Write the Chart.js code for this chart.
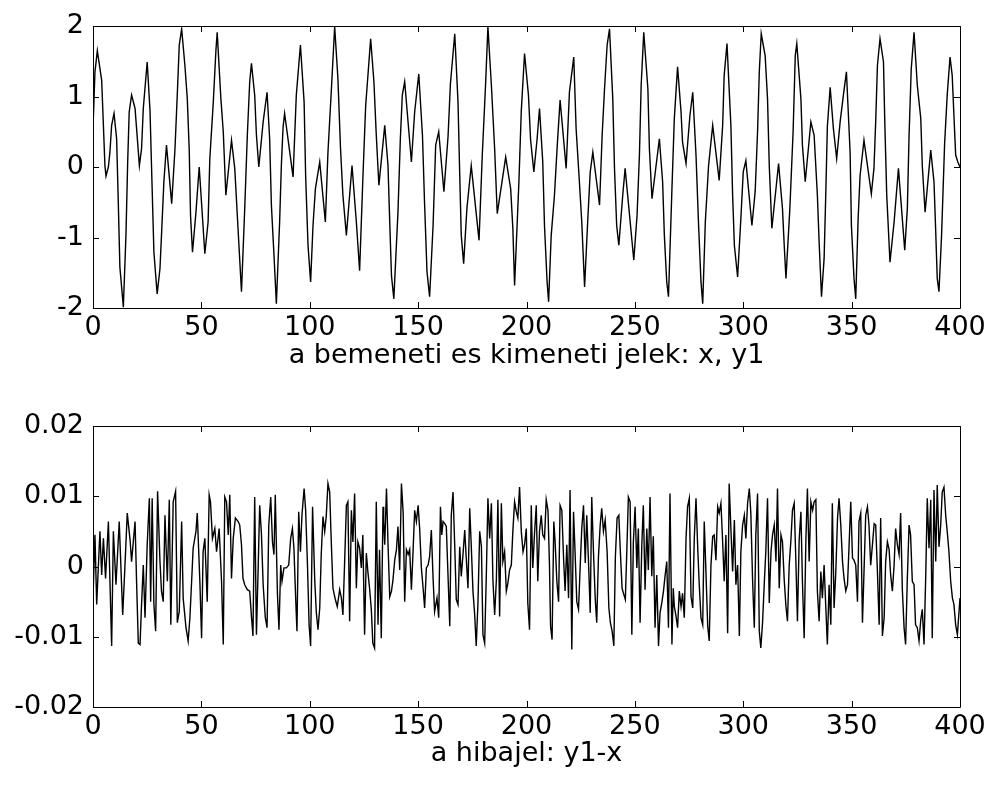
<!DOCTYPE html>
<html>
<head>
<meta charset="utf-8">
<script src="https://cdn.jsdelivr.net/npm/chart.js@4"></script>
<style>
  html, body { margin: 0; padding: 0; background: #ffffff; }
  #lap { position: relative; width: 991px; height: 787px; background: #ffffff; }
  .tabla { position: absolute; left: 0; }
  #felso { top: 0; }
  #also { top: 400px; }
</style>
</head>
<body>
<div id="lap">
  <canvas id="felso" class="tabla" width="991" height="393"></canvas>
  <canvas id="also" class="tabla" width="991" height="387"></canvas>
</div>
<script>
/* x tengely osztasai */
const xTicks = [0, 50, 100, 150, 200, 250, 300, 350, 400];
const yTicksJel = [-2, -1, 0, 1, 2];
const yTicksHiba = [-0.02, -0.01, 0, 0.01, 0.02];

/* BEMENETI / KIMENETI JEL (x, y1) - mintaszam es ertek */
const jelMinta = [0,0.9,2,4,4.8,5.5,6,7.1,7.8,8.6,9.7,10.9,11.7,12.4,13.2,14,15.2,16,16.7,17.8,19.4,21.4,22.4,23.2,25,26.3,27.2,28.1,29.6,30.9,31.6,32.7,33.9,36.3,37.8,38.9,39.8,40.9,42.4,43.5,44.4,45,45.9,47.5,49,51.6,53.1,53.9,55.5,56.7,57.3,59,60.1,61.3,63.9,65.4,66.9,68.5,70,71.2,72.3,73.1,74.6,75.4,76.5,78.5,80.3,81.5,82.3,83.5,84.6,86.1,86.9,87.7,88.4,92.3,93.8,95.7,97.4,98.1,99.2,100.4,101.5,102.6,104.6,107.2,108.4,110,111.5,113,114.2,115.3,116.9,119.5,121.5,123,124.5,125.8,128.1,129.6,130.7,131.9,134.6,136.1,136.9,137.7,138.8,140.7,141.8,142.7,143.8,146.9,148.4,150.3,152,153,154.1,155.3,156.9,158.1,159.5,161.9,163.8,164.9,166.9,168.4,169.2,169.9,171,172.5,174.5,178.1,179.6,181.1,182.2,183.8,185.3,186.5,190.4,192.7,193.7,194.5,196.5,197.6,199.1,200.9,201.9,203.4,204.9,206,207.5,208.3,209.5,210.2,211.4,212.9,214.2,215.5,218.3,219.8,221.8,222.9,224.4,225.5,226.8,228.3,229.4,230.6,233.7,234.9,236,237.2,238.3,239.8,240.6,241.6,242.6,244.4,245.5,249.5,251,252.1,252.9,254.1,256,256.7,257.9,261.3,262.8,263.6,264.7,265.5,267.1,268.2,269.7,271.3,272,273.6,275.4,276.7,278.2,279.4,280.5,281.3,282.5,284,285.9,288.9,290.5,291.2,292.5,294.3,295.1,295.9,297.4,298.9,300,301.2,304,305.5,306.6,307.4,308.3,310.1,311.2,312,313.2,316.3,318.1,318.9,319.7,321.5,323,324,324.7,326.6,327.3,328.6,331.2,332.7,334.2,335,336.1,337.3,338.1,338.8,340.1,341.6,343.1,344.7,346.2,347.6,349.3,349.9,351.1,351.9,353,353.9,355.7,359.1,360.3,361.1,361.9,363.1,364.7,365.3,366.2,367.7,369.6,371.6,374.5,375.7,376.5,377.5,378.8,380.3,381.9,382.6,383.9,386.5,388,388.8,389.5,390.3,391.5,392.9,394.1,395.4,396.4,397.2,398,399,400];
const jelErtek = [0.54,1.35,1.65,1.23,0.59,0.02,-0.13,0,0.21,0.59,0.76,0.4,-0.54,-1.42,-1.7,-1.99,-0.97,0.07,0.78,1.02,0.83,0.02,0.26,0.83,1.49,0.8,-0.21,-1.21,-1.8,-1.44,-0.97,-0.21,0.31,-0.52,0.24,1.04,1.73,1.96,1.44,0.97,0.24,-0.69,-1.21,-0.64,0,-1.23,-0.78,0.12,0.92,1.65,1.91,0.97,0.5,-0.4,0.38,-0.02,-0.87,-1.77,-0.59,0.45,1.21,1.47,1.02,0.45,0,0.64,1.06,0.4,-0.54,-1.25,-1.94,-0.78,0.02,0.57,0.76,-0.14,1.02,1.73,0.92,-0.12,-1.11,-1.63,-0.83,-0.31,0.07,-0.78,0.21,1.11,1.99,1.25,0.26,-0.4,-0.97,0.02,-0.78,-1.47,-0.17,0.87,1.82,1.21,0.45,-0.26,0.59,0.02,-0.78,-1.54,-1.87,-0.64,0.4,1.02,1.21,0.07,0.78,1.32,0.45,-0.54,-1.49,-1.84,-0.83,0.31,0.5,-0.35,0.43,1.18,1.89,0.92,-0.12,-0.97,-1.37,-0.59,0.02,-1.04,0.17,1.16,1.99,1.16,0.26,-0.66,0.14,-0.31,-0.87,-1.68,-0.21,0.8,1.61,1.02,0.38,-0.07,0.4,0.83,0.07,-0.83,-1.63,-1.91,-0.97,-0.4,0.31,0.95,-0.02,1.06,1.56,0.54,-0.21,-0.78,-1.7,-0.73,-0.07,0.21,-0.54,0.45,1.11,1.73,1.96,0.97,-0.02,-0.83,-1.11,-0.4,-0.02,-1.32,-0.69,0.17,1.16,1.91,1.11,0.26,-0.45,0.4,-0.21,-0.97,-1.63,-1.84,-0.31,0.69,1.42,0.78,0.35,0.05,0.73,1.06,0.17,-0.83,-1.63,-1.94,-0.78,0.02,0.59,-0.19,0.59,1.3,1.75,0.59,-0.4,-1.11,-1.56,-0.73,-0.07,0.09,-0.83,-0.35,0.5,1.35,1.89,1.58,0.97,0.02,-0.87,0.05,-0.59,-1.11,-1.58,-0.59,0.5,1.58,1.75,0.97,0.31,-0.21,0.64,0.45,-0.4,-1.06,-1.84,-1.3,-0.35,0.57,1.13,0.54,0.12,0.64,1.02,1.35,0.21,-0.83,-1.58,-1.87,-0.73,-0.12,0.38,-0.38,-0.02,0.64,1.44,1.82,1.49,0.64,-0.4,-1.35,-0.78,-0.02,-1.18,-0.59,0.45,1.39,1.91,1.16,0.69,0.02,-0.64,0.24,-0.21,-0.92,-1.58,-1.77,-0.97,0.33,1.02,1.56,1.3,0.73,0.17,0.07,0];

/* HIBAJEL (y1 - x) */
const hibaMinta = [0,0.9,1.7,2.5,3.2,4,4.8,5.8,7.1,8.6,9.4,10.6,12.1,13.7,14.7,15.8,17.1,17.8,19.4,20.1,20.9,21.7,22.4,23.2,24,25,26,26.6,27.3,28.1,28.9,29.8,30.9,31.6,32.4,33.2,34.3,35.2,35.9,37,38.1,38.9,39.8,40.9,41.6,42.9,43.9,44.7,45.5,46.2,47.5,48.1,49.3,50.1,50.8,51.6,52.7,53.6,54.2,55.1,56.2,57,58.2,59.3,60.1,60.8,61.6,62.4,63.1,63.9,64.7,65.7,67,67.7,68.5,69.2,70,71.2,72.3,73.1,73.8,74.6,75.4,76.2,76.9,77.7,78.5,79.5,80.3,81.1,82,82.8,83.5,84.1,85.1,85.8,86.6,87.2,88.1,89.2,90.3,91.2,92,92.7,93.5,94.1,94.9,95.7,96.4,97.4,98.1,98.9,99.7,100.4,101.3,102.3,103,103.8,104.6,105.3,106.1,106.9,107.6,108.4,109.2,109.9,110.7,111.8,112.7,113.8,114.6,115.3,116.1,116.9,117.6,118.4,119.2,119.9,120.7,121.5,122.2,123,123.8,124.5,125.3,126.1,126.8,127.6,128.4,129.1,129.9,130.7,131.5,132.2,133,133.8,134.1,134.6,135.4,136.1,136.9,137.7,138.4,139.2,140,140.7,141.5,142.3,143.1,143.8,144.6,145.4,146.1,146.9,147.7,148.4,149.2,150,150.7,151.5,152.3,153,153.8,154.6,155.3,156.1,156.9,157.6,158.7,159.5,160.3,160.9,161.5,162.3,163,163.8,164.6,165.3,166.1,166.9,167.6,168.4,169.2,169.9,170.7,171.5,172.2,173,173.8,174.5,175.3,176.1,176.8,177.6,178.4,179.2,179.9,180.7,181.5,182.2,183,183.8,184.5,185.3,186.1,186.8,187.6,188.4,189.1,189.9,190.7,191.4,192.2,193,193.7,194.5,195.3,196,196.8,197.6,198.4,199.1,199.9,200.6,201.4,202.2,202.9,203.7,204.5,205.2,206,206.8,207.5,208.3,209.1,209.9,210.6,211.1,211.8,212.6,213.2,214,214.8,215.5,216.3,217.1,217.8,218.6,219.4,220.1,220.9,221.7,222.4,223.2,224,224.8,225.5,226.3,227.1,227.8,228.6,229.4,230.1,230.9,231.7,232.4,233.2,234,234.7,235.5,236.3,237.2,238,238.7,239.5,240.3,241,241.8,242.6,243.3,244.1,244.9,245.6,246.3,247,247.8,248.6,249.3,250.1,250.9,251.6,252.4,253.2,253.9,254.7,255.5,256.2,257,257.8,258.5,259.3,260.1,260.9,261.6,262.4,263.2,263.9,264.7,265.5,266.2,267.1,267.7,268.2,269,269.7,270.5,271.3,272,272.8,273.6,274.3,275.1,275.9,276.7,277.4,278.2,279,279.7,280.5,281.3,282,282.8,283.6,284.3,285.1,285.9,286.6,287.4,288.2,288.9,289.7,290.5,291.2,292,292.8,293.5,294.3,295.1,295.9,296.6,297.4,298.2,298.9,299.7,300.5,301.2,302,302.8,303.5,304.3,305.1,305.8,306.6,307.4,308.1,308.9,309.7,310.4,311.2,312,312.8,313.5,314.3,315.1,315.8,316.6,317.4,318.1,318.9,319.7,320.4,321.2,322,322.7,323.5,324.3,325,325.8,326.6,327.3,328.1,328.9,329.6,330.4,331.2,332,332.7,333.5,334.2,335,335.8,336.5,337.3,338.1,338.8,339.6,340.4,341.1,341.9,342.7,343.5,344.2,345,345.8,346.5,347.3,348.1,348.8,349.6,350.4,351.1,351.9,352.7,353.4,354.2,355,355.7,356.5,357.3,358,358.8,359.6,360.4,361.1,361.9,362.7,363.4,364.2,365,365.7,366.5,367.3,368,368.8,369.6,370.3,371.1,371.9,372.6,373.4,374.2,374.9,375.7,376.5,377.2,378,378.8,379.5,380.3,381.1,381.9,382.6,383.4,384.2,384.9,385.7,386.5,387.2,388,388.8,389.5,390.3,391.1,391.8,392.6,393.4,394.1,394.9,395.7,396.5,397.2,398,398.8,400];
const hibaErtek = [-0.0045,0.0045,-0.0054,0.0002,0.005,-0.0012,0.004,-0.0017,0.0064,-0.0113,0.005,-0.0026,0.0064,-0.0069,-0.0002,0.0076,0.0038,0.0007,0.0064,-0.0021,-0.0109,-0.0111,-0.0054,0.0002,-0.0073,0.0031,0.0097,-0.005,0.0097,-0.0054,-0.0092,0.0107,0.0007,-0.0035,-0.005,0.0073,-0.0021,0.0095,-0.0083,0.0092,0.0107,-0.008,-0.0064,0.0064,-0.0045,-0.0087,-0.0106,-0.0073,-0.0021,0.0026,0.005,0.0076,-0.0021,-0.0102,0.0021,0.004,-0.005,0.0102,0.0092,0.004,0.0054,0.0021,0.0054,-0.0021,-0.0111,0.0099,0.0092,0.0045,0.0102,-0.0017,0.004,0.0069,0.0064,0.0059,0.0031,-0.0017,-0.0026,-0.0033,-0.0035,-0.0071,-0.0099,0.0099,-0.0097,-0.0002,0.0087,0.0047,-0.0026,-0.0073,-0.0087,0.0059,0.0099,0.0035,0.0017,0.0102,-0.004,-0.009,0.0002,-0.0021,-0.0002,-0.0002,0.0002,0.004,0.0054,0.0026,-0.0045,-0.0092,0.0078,0.0021,0.0073,0.0111,0.008,0.0007,-0.0083,-0.0113,0.0085,-0.0019,-0.0064,-0.009,-0.0059,0.0017,0.0071,0.005,0.0071,0.0118,0.0106,0.0038,-0.0031,-0.0047,-0.0057,-0.0033,-0.0045,-0.0069,0.0007,0.0087,0.0092,-0.0078,0.008,0.0035,0.0104,-0.0031,0.0035,0.0026,-0.0002,0.0045,-0.0097,0.0019,-0.0007,-0.0031,-0.0061,-0.0109,-0.0116,0.0092,-0.0083,0.0024,-0.0102,0.0085,0.0064,0.0031,0.0111,0.0033,-0.0043,-0.0035,-0.0019,0.0009,0.0024,0.0057,-0.0005,0.0118,0.0076,-0.005,0.0024,0.0017,0.0024,-0.0033,0.0024,0.008,0.0064,0.0087,0.0054,-0.0002,-0.0031,-0.0059,-0.0002,0.0002,0.0014,0.0052,-0.0017,-0.0064,-0.0045,-0.0073,0.0085,0.0045,0.0064,0.0061,0.0057,-0.0014,-0.0085,0.0073,0.0106,0.0028,-0.0047,-0.0054,0.0028,-0.0014,0.0017,0.0052,0.0012,-0.0031,0.0083,0.0031,-0.0035,-0.0069,-0.0113,-0.0052,0.005,0.0028,-0.0097,-0.0109,-0.0007,0.0097,0.004,0.009,-0.0019,-0.0069,-0.0019,0.0095,-0.0071,0.009,0.0007,0.0021,-0.0035,-0.0024,-0.0005,0.0002,0.005,0.0092,0.0078,0.0069,0.0113,0.005,0.0021,0.0031,0.0054,-0.0052,-0.009,0.0087,-0.0002,0.0047,0.0087,-0.0021,0.005,0.0073,0.0045,0.004,0.0095,0.008,0.0002,-0.0085,-0.0104,0.0064,0.0035,-0.0021,-0.005,0.0087,0.008,0.0012,-0.0035,0.0031,-0.0045,0.0109,-0.0118,0.0078,0.0021,-0.005,-0.0061,0.0002,0.0054,0.0087,0.0005,0.0073,0.0007,-0.0066,0.0099,0.0021,-0.0045,-0.008,0.0014,0.0059,0.0083,0.005,0.0066,0.0021,-0.0059,-0.008,-0.0092,-0.0113,0.0014,0.0069,0.0073,0.0021,-0.0031,-0.004,-0.0047,0.0024,0.0099,0.0092,-0.0097,0.0035,0.0085,-0.0002,0.0054,-0.008,0.0031,0.0087,-0.0033,0.0054,-0.0005,0.0099,-0.0014,0.0043,-0.0087,-0.0012,-0.0113,-0.0066,-0.0052,-0.0035,-0.0014,0.0007,-0.0087,0.0104,-0.0111,-0.0031,-0.0057,-0.0071,-0.0087,-0.0035,-0.0057,-0.0038,-0.0073,0.004,0.0085,0.0097,-0.0043,-0.0059,0.004,0.0097,0.0026,-0.0026,-0.0073,-0.0083,0.0064,-0.0009,-0.0085,-0.0106,0.0002,0.0043,0.0045,0.0009,0.0085,0.0076,0.009,0.0035,-0.0021,0.0045,-0.0095,0.0118,0.0054,-0.0007,0.0066,-0.0026,0.0002,-0.0099,0.0021,0.0059,0.0073,0.004,0.009,0.0111,0.0076,-0.0019,-0.0087,0.0045,0.0104,-0.0092,-0.0116,-0.008,-0.0024,0.0021,0.0097,-0.0052,0.0021,0.0045,0.0059,0.0007,0.0111,-0.0031,0.0045,0.0035,-0.0019,-0.0057,-0.0078,0.0002,0.0038,0.008,0.009,0.0005,-0.0078,0.0038,0.0078,-0.0021,-0.0102,0.0038,0.0111,0.0007,0.0092,0.008,0.0092,0.0095,-0.0035,-0.0078,-0.0007,-0.0045,0.0002,-0.0059,-0.0111,-0.0026,-0.0083,0.009,-0.0059,-0.0007,0.0069,0.0097,0.0059,0.0007,-0.0017,-0.0035,-0.0026,0.0028,0.0092,0.0012,0.0009,0.0002,-0.005,0.0064,0.0076,-0.008,-0.0009,0.0073,0.0085,0.0059,0.0002,0.0031,0.0061,0.0059,-0.0007,-0.0083,0.0069,-0.0099,-0.0073,0.0007,0.0035,0.0024,-0.0012,-0.0035,0.0002,0.0054,0.0031,0.0017,0.0076,-0.0033,-0.0087,-0.0111,-0.0017,0.0059,0.0045,-0.0021,-0.0026,-0.0083,-0.0087,-0.0106,-0.0076,-0.0061,-0.0111,-0.0012,0.0097,0.0026,0.0095,-0.0102,0.0109,0.0007,0.0116,0.0028,0.0059,0.0106,0.0113,0.0073,0.005,0.0021,-0.0021,-0.0045,-0.0054,-0.0083,-0.0097,-0.0045,-0.005];

const betu = { family: '"DejaVu Sans", sans-serif', size: 27 };

/* keret es befele allo osztasjelek minden oldalon */
const keretRajz = {
  id: 'keretRajz',
  afterDatasetsDraw(chart) {
    const { ctx, chartArea: a, scales } = chart;
    const hossz = 6;
    ctx.save();
    ctx.strokeStyle = '#000000';
    ctx.lineWidth = 1;
    ctx.beginPath();
    ctx.rect(Math.round(a.left) + 0.5, Math.round(a.top) + 0.5,
             Math.round(a.right - a.left), Math.round(a.bottom - a.top));
    scales.x.ticks.forEach(t => {
      const px = Math.round(scales.x.getPixelForValue(t.value)) + 0.5;
      ctx.moveTo(px, a.bottom); ctx.lineTo(px, a.bottom - hossz);
      ctx.moveTo(px, a.top); ctx.lineTo(px, a.top + hossz);
    });
    scales.y.ticks.forEach(t => {
      const py = Math.round(scales.y.getPixelForValue(t.value)) + 0.5;
      ctx.moveTo(a.left, py); ctx.lineTo(a.left + hossz, py);
      ctx.moveTo(a.right, py); ctx.lineTo(a.right - hossz, py);
    });
    ctx.stroke();
    ctx.restore();
  }
};

function pontok(minta, ertek) {
  return minta.map((n, i) => ({ x: n, y: ertek[i] }));
}

function tengelyek(yMin, yMax, yLepes, yOszt, cim, cimAlja, xMagas) {
  return {
    x: {
      type: 'linear',
      min: 0, max: 400,
      afterBuildTicks: s => { s.ticks = xTicks.map(v => ({ value: v })); },
      afterFit: s => { s.height = xMagas; },
      grid: { display: false, drawTicks: false },
      border: { display: false },
      ticks: { color: '#000000', font: betu, padding: 4, maxRotation: 0 },
      title: { display: true, text: cim, color: '#000000', font: betu,
               padding: { top: 0, bottom: cimAlja } }
    },
    y: {
      type: 'linear',
      min: yMin, max: yMax,
      afterBuildTicks: s => { s.ticks = yOszt.map(v => ({ value: v })); },
      afterFit: s => { s.width = 93; },
      grid: { display: false, drawTicks: false },
      border: { display: false },
      ticks: { color: '#000000', font: betu, padding: 9, stepSize: yLepes,
               callback: v => String(Math.round(v * 100) / 100) }
    }
  };
}

function rajzol(id, adat, cimke, skalak) {
  return new Chart(document.getElementById(id), {
    type: 'line',
    data: {
      datasets: [{
        label: cimke,
        data: adat,
        borderColor: '#000000',
        borderWidth: 1.4,
        pointRadius: 0,
        tension: 0,
        fill: false
      }]
    },
    options: {
      responsive: false,
      animation: false,
      devicePixelRatio: 1,
      layout: { padding: { top: 26, right: 31, left: 0, bottom: 0 } },
      plugins: { legend: { display: false }, tooltip: { enabled: false } },
      scales: skalak
    },
    plugins: [keretRajz]
  });
}

rajzol('felso', pontok(jelMinta, jelErtek), 'x, y1',
  tengelyek(-2, 2, 1, yTicksJel, 'a bemeneti es kimeneti jelek: x, y1', 21, 85));

rajzol('also', pontok(hibaMinta, hibaErtek), 'y1-x',
  tengelyek(-0.02, 0.02, 0.01, yTicksHiba, 'a hibajel: y1-x', 17, 80));
</script>
</body>
</html>
